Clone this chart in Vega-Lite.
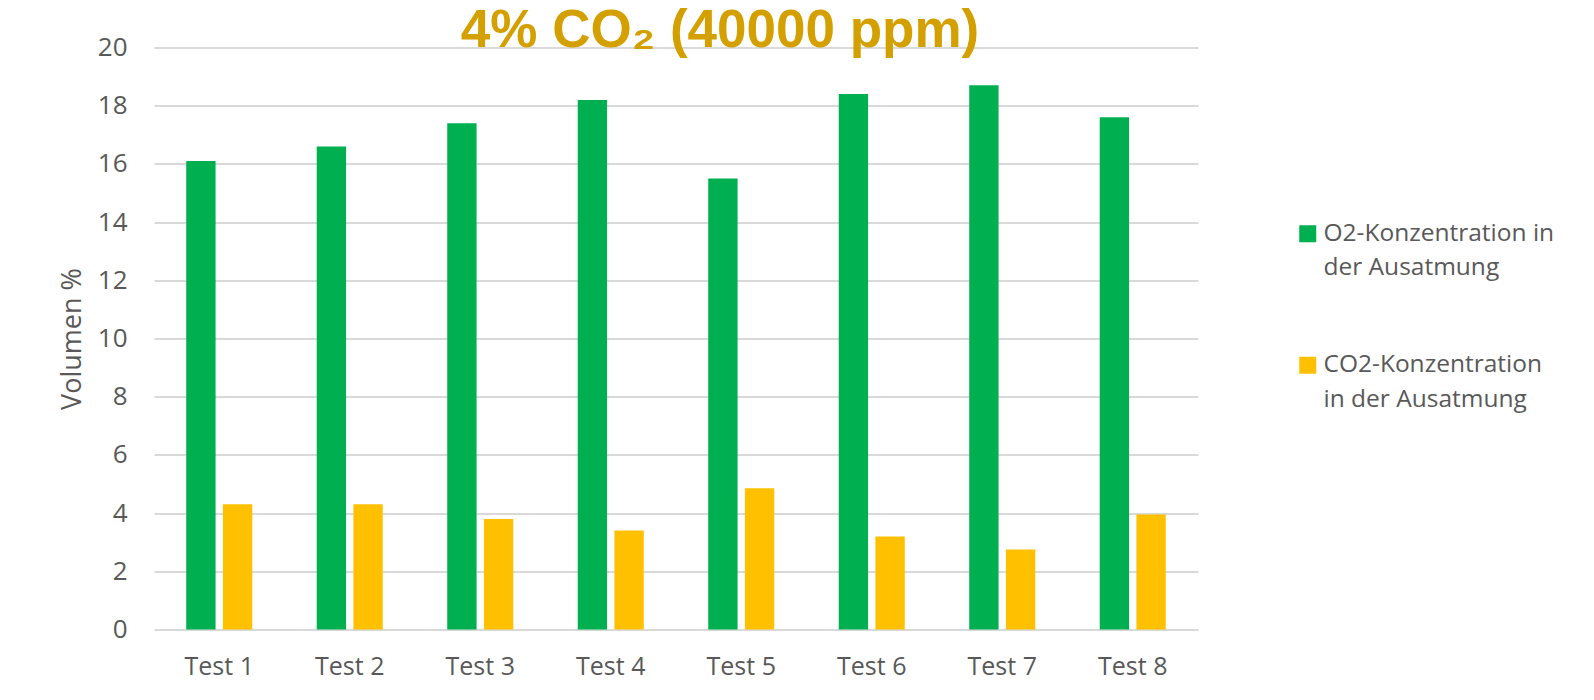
{
  "$schema": "https://vega.github.io/schema/vega-lite/v6.json",
  "width": 1044,
  "height": 582,
  "autosize": "none",
  "padding": {"left": 154, "top": 47.5, "right": 396, "bottom": 70.5},
  "background": "white",
  "title": {
    "text": "4% CO₂ (40000 ppm)",
    "font": "Liberation Sans",
    "fontSize": 53,
    "fontWeight": "bold",
    "color": "#D3A000",
    "anchor": "middle",
    "dx": 44,
    "dy": 53,
    "baseline": "alphabetic",
    "offset": -12
  },
  "data": {
    "values": [
      {"test": "Test 1", "serie": "O2-Konzentration in der Ausatmung", "wert": 16.1},
      {"test": "Test 1", "serie": "CO2-Konzentration in der Ausatmung", "wert": 4.3},
      {"test": "Test 2", "serie": "O2-Konzentration in der Ausatmung", "wert": 16.6},
      {"test": "Test 2", "serie": "CO2-Konzentration in der Ausatmung", "wert": 4.3},
      {"test": "Test 3", "serie": "O2-Konzentration in der Ausatmung", "wert": 17.4},
      {"test": "Test 3", "serie": "CO2-Konzentration in der Ausatmung", "wert": 3.8},
      {"test": "Test 4", "serie": "O2-Konzentration in der Ausatmung", "wert": 18.2},
      {"test": "Test 4", "serie": "CO2-Konzentration in der Ausatmung", "wert": 3.4},
      {"test": "Test 5", "serie": "O2-Konzentration in der Ausatmung", "wert": 15.5},
      {"test": "Test 5", "serie": "CO2-Konzentration in der Ausatmung", "wert": 4.85},
      {"test": "Test 6", "serie": "O2-Konzentration in der Ausatmung", "wert": 18.4},
      {"test": "Test 6", "serie": "CO2-Konzentration in der Ausatmung", "wert": 3.2},
      {"test": "Test 7", "serie": "O2-Konzentration in der Ausatmung", "wert": 18.7},
      {"test": "Test 7", "serie": "CO2-Konzentration in der Ausatmung", "wert": 2.75},
      {"test": "Test 8", "serie": "O2-Konzentration in der Ausatmung", "wert": 17.6},
      {"test": "Test 8", "serie": "CO2-Konzentration in der Ausatmung", "wert": 3.95}
    ]
  },
  "mark": {"type": "bar"},
  "encoding": {
    "x": {
      "field": "test",
      "type": "nominal",
      "sort": null,
      "title": null,
      "scale": {"paddingInner": 0.494, "paddingOuter": 0.247},
      "axis": {
        "labelAngle": 0,
        "labelFont": "Open Sans",
        "labelFontSize": 25,
        "labelColor": "#595959",
        "ticks": false,
        "domain": false,
        "grid": false,
        "labelPadding": 25
      }
    },
    "xOffset": {
      "field": "serie",
      "type": "nominal",
      "sort": ["O2-Konzentration in der Ausatmung", "CO2-Konzentration in der Ausatmung"],
      "scale": {"paddingInner": 0.2, "paddingOuter": 0}
    },
    "y": {
      "field": "wert",
      "type": "quantitative",
      "title": "Volumen %",
      "scale": {"domain": [0, 20], "nice": false},
      "axis": {
        "values": [0, 2, 4, 6, 8, 10, 12, 14, 16, 18, 20],
        "labelFont": "Open Sans",
        "labelFontSize": 26,
        "labelColor": "#595959",
        "ticks": false,
        "domain": false,
        "labelPadding": 27,
        "gridColor": "#d9d9d9",
        "gridWidth": 2,
        "titleFont": "Open Sans",
        "titleFontSize": 27,
        "titleFontWeight": "normal",
        "titleColor": "#595959",
        "titlePadding": 11
      }
    },
    "color": {
      "field": "serie",
      "type": "nominal",
      "sort": ["O2-Konzentration in der Ausatmung", "CO2-Konzentration in der Ausatmung"],
      "scale": {
        "domain": ["O2-Konzentration in der Ausatmung", "CO2-Konzentration in der Ausatmung"],
        "range": ["#00B050", "#FFC000"]
      },
      "legend": {
        "orient": "none",
        "legendX": 1141.5,
        "legendY": 174,
        "title": null,
        "padding": 0,
        "symbolType": "square",
        "symbolSize": 289,
        "symbolStrokeWidth": 0,
        "labelFont": "Open Sans",
        "labelFontSize": 24.5,
        "labelColor": "#595959",
        "labelOffset": 3.5,
        "labelLimit": 400,
        "rowPadding": 71.5,
        "labelBaseline": "middle",
        "labelExpr": "datum.label == 'O2-Konzentration in der Ausatmung' ? ['O2-Konzentration in', 'der Ausatmung'] : ['CO2-Konzentration', 'in der Ausatmung']",
        "encode": {
          "labels": {"update": {"lineHeight": {"value": 34.5}}}
        }
      }
    }
  },
  "config": {
    "view": {"stroke": null}
  }
}
